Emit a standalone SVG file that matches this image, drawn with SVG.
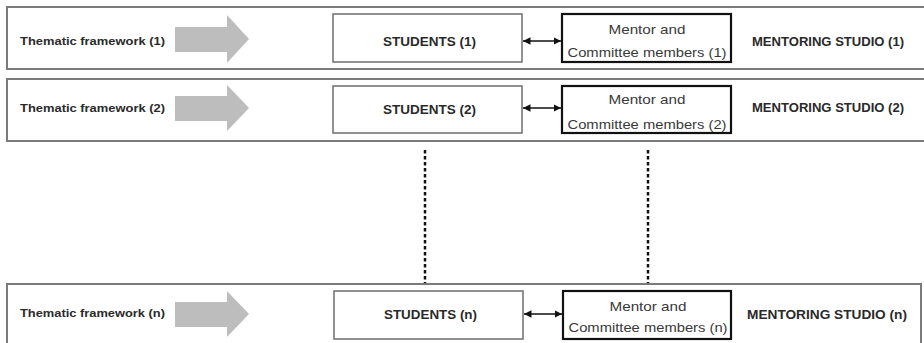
<svg xmlns="http://www.w3.org/2000/svg" width="924" height="343" viewBox="0 0 924 343">
<style>
.row{fill:#fff;stroke:#7a7a7a;stroke-width:2}
.stu{fill:#fff;stroke:#6e6e6e;stroke-width:1.5}
.men{fill:#fff;stroke:#111;stroke-width:2.2}
.tf{font-family:"Liberation Sans",Arial,sans-serif;font-weight:bold;font-size:11px;fill:#2a2a2a}
.lb{font-family:"Liberation Sans",Arial,sans-serif;font-weight:bold;font-size:12px;fill:#2a2a2a}
.mt{font-family:"Liberation Sans",Arial,sans-serif;font-size:13px;fill:#3a3a3a;text-anchor:middle}
.blk{fill:#bdbdbd}
.dbl{stroke:#111;stroke-width:1.5;fill:none;marker-start:url(#ah);marker-end:url(#ah)}
.dot{stroke:#111;stroke-width:2.5;stroke-dasharray:3.5 2.5;fill:none}
</style>
<defs>
<marker id="ah" viewBox="0 0 10 10" refX="10" refY="5" markerWidth="5" markerHeight="5" orient="auto-start-reverse" markerUnits="strokeWidth">
<path d="M0,0 L10,5 L0,10 z" fill="#111"/>
</marker>
</defs>

<g id="row1">
<rect class="row" x="7" y="7" width="930" height="62"/>
<text class="tf" x="20" y="45" textLength="145" lengthAdjust="spacingAndGlyphs">Thematic framework (1)</text>
<polygon class="blk" points="175,27 227,27 227,15 249,39 227,63 227,52 175,52"/>
</g>
<g id="students1">
<rect class="stu" x="333" y="14" width="189" height="48"/>
<text class="lb" x="383" y="46" textLength="93" lengthAdjust="spacingAndGlyphs">STUDENTS (1)</text>
</g>
<g id="mentor1">
<rect class="men" x="562" y="14" width="169" height="48"/>
<text class="mt" x="647" y="34" textLength="77" lengthAdjust="spacingAndGlyphs">Mentor and</text>
<text class="mt" x="647" y="57" textLength="159" lengthAdjust="spacingAndGlyphs">Committee members (1)</text>
</g>
<g id="studio1">
<text class="lb" x="752" y="46" textLength="152" lengthAdjust="spacingAndGlyphs">MENTORING STUDIO (1)</text>
</g>

<g id="row2">
<rect class="row" x="7" y="79" width="930" height="62"/>
<text class="tf" x="20" y="112" textLength="145" lengthAdjust="spacingAndGlyphs">Thematic framework (2)</text>
<polygon class="blk" points="175,96 227,96 227,85 249,108 227,131 227,121 175,121"/>
</g>
<g id="students2">
<rect class="stu" x="333" y="86" width="189" height="47"/>
<text class="lb" x="383" y="114" textLength="93" lengthAdjust="spacingAndGlyphs">STUDENTS (2)</text>
</g>
<g id="mentor2">
<rect class="men" x="562" y="86" width="169" height="47"/>
<text class="mt" x="647" y="104" textLength="77" lengthAdjust="spacingAndGlyphs">Mentor and</text>
<text class="mt" x="647" y="129" textLength="159" lengthAdjust="spacingAndGlyphs">Committee members (2)</text>
</g>
<g id="studio2">
<text class="lb" x="752" y="112" textLength="152" lengthAdjust="spacingAndGlyphs">MENTORING STUDIO (2)</text>
</g>

<g id="rown">
<rect class="row" x="7" y="284" width="914" height="70"/>
<text class="tf" x="20" y="317" textLength="145" lengthAdjust="spacingAndGlyphs">Thematic framework (n)</text>
<polygon class="blk" points="175,302 227,302 227,291 249,314 227,337 227,327 175,327"/>
</g>
<g id="studentsn">
<rect class="stu" x="334" y="291" width="189" height="48"/>
<text class="lb" x="384" y="319" textLength="93" lengthAdjust="spacingAndGlyphs">STUDENTS (n)</text>
</g>
<g id="mentorn">
<rect class="men" x="563" y="291" width="168" height="48"/>
<text class="mt" x="648" y="311" textLength="77" lengthAdjust="spacingAndGlyphs">Mentor and</text>
<text class="mt" x="648" y="332" textLength="159" lengthAdjust="spacingAndGlyphs">Committee members (n)</text>
</g>
<g id="studion">
<text class="lb" x="747" y="319" textLength="160" lengthAdjust="spacingAndGlyphs">MENTORING STUDIO (n)</text>
</g>

<g id="connectors">
<line class="dbl" x1="523" y1="41" x2="561" y2="41"/>
<line class="dbl" x1="523" y1="108" x2="561" y2="108"/>
<line class="dbl" x1="524" y1="314" x2="562" y2="314"/>
<line class="dot" x1="425" y1="150" x2="425" y2="283"/>
<line class="dot" x1="648" y1="150" x2="648" y2="283"/>
</g>
</svg>
